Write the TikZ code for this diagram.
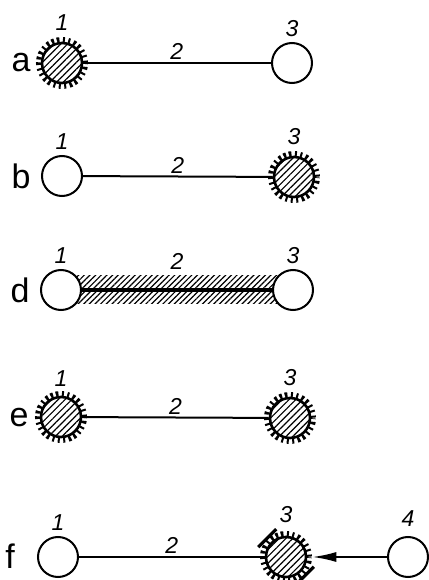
\documentclass[tikz,border=0pt]{standalone}
\usepackage{fontspec}
\setmainfont{Liberation Sans}
\usetikzlibrary{patterns.meta,arrows.meta,backgrounds,calc}

\begin{document}
\begin{tikzpicture}[x=0.5pt, y=0.5pt,
  every node/.style={font=\fontsize{11.5}{13}\selectfont\itshape, inner sep=1pt},
  joint/.style={circle, draw, line width=1pt, minimum size=20pt, inner sep=0pt,
    fill=white},
  fixed/.style={joint, line width=1.3pt,
    preaction={draw, line width=6pt, dash pattern=on 1pt off 1.4pt},
    preaction={fill=white},
    pattern={Lines[angle=45,distance=2.4pt,line width=0.6pt]}},
  bar/.style={line width=1pt},
  guide/.style={line width=1.6pt},
  rowlbl/.style={font=\fontsize{17}{19}\selectfont}]
  \useasboundingbox (0,0) rectangle (429,580);

  % a: joint 1 fixed
  \node[rowlbl] (la) at (21,517) {a};
  \node[fixed] (a1) at (62,517) {};
  \node[joint] (a3) at (292,517) {};
  \draw[bar] (a1) -- node[above] (a2) {2} (a3);
  \node[above=4.5pt] (na1) at (a1.north) {1};
  \node[above=1.5pt] (na3) at (a3.north) {3};

  % b: joint 3 fixed
  \node[rowlbl] (lb) at (21,404) {b};
  \node[joint] (b1) at (62,404) {};
  \node[fixed] (b3) at (294,403) {};
  \draw[bar] (b1) -- node[above] (b2) {2} (b3);
  \node[above=1.5pt] (nb1) at (b1.north) {1};
  \node[above=4.5pt] (nb3) at (b3.north) {3};

  % d: bar fixed
  \node[rowlbl] (ld) at (20,290) {d};
  \node[joint] (d1) at (61,290) {};
  \node[joint] (d3) at (293,290) {};
  \begin{scope}[on background layer]
    \fill[pattern={Lines[angle=45,distance=2pt,line width=0.6pt]}]
      ($(d1.center)+(0,-14)$) rectangle ($(d3.center)+(0,14)$);
  \end{scope}
  \draw[line width=1.6pt] (d1) -- node[above=8.5pt] (d2) {2} (d3);
  \node[above=1.5pt] (nd1) at (d1.north) {1};
  \node[above=1.5pt] (nd3) at (d3.north) {3};

  % e: both joints fixed
  \node[rowlbl] (le) at (19,162) {e};
  \node[fixed] (e1) at (61,163) {};
  \node[fixed] (e3) at (290,162) {};
  \draw[bar] (e1) -- node[above] (e2) {2} (e3);
  \node[above=3.5pt] (ne1) at (e1.north) {1};
  \node[above=4.5pt] (ne3) at (e3.north) {3};

  % f: joint 3 fixed, pushed by 4
  \node[rowlbl] (lf) at (10,24) {f};
  \node[joint] (f1) at (58,23) {};
  \node[fixed] (f3) at (286,23) {};
  \node[joint] (f4) at (408,23) {};
  \draw[bar] (f1) -- node[above] (f2) {2} (f3);
  \draw[bar, -{Latex[length=12pt,width=5pt]}, shorten >=2.5pt] (f4) -- (f3);
  \draw[guide] ($(f3.center)!1.25!(f3.135)$) +(-9,-9) -- +(9,9);
  \draw[guide] ($(f3.center)!1.25!(f3.-45)$) +(-9,-9) -- +(9,9);
  \node[above=1.5pt] (nf1) at (f1.north) {1};
  \node[above=5.5pt] (nf3) at (f3.north) {3};
  \node[above=3.5pt] (nf4) at (f4.north) {4};
\end{tikzpicture}
\end{document}
